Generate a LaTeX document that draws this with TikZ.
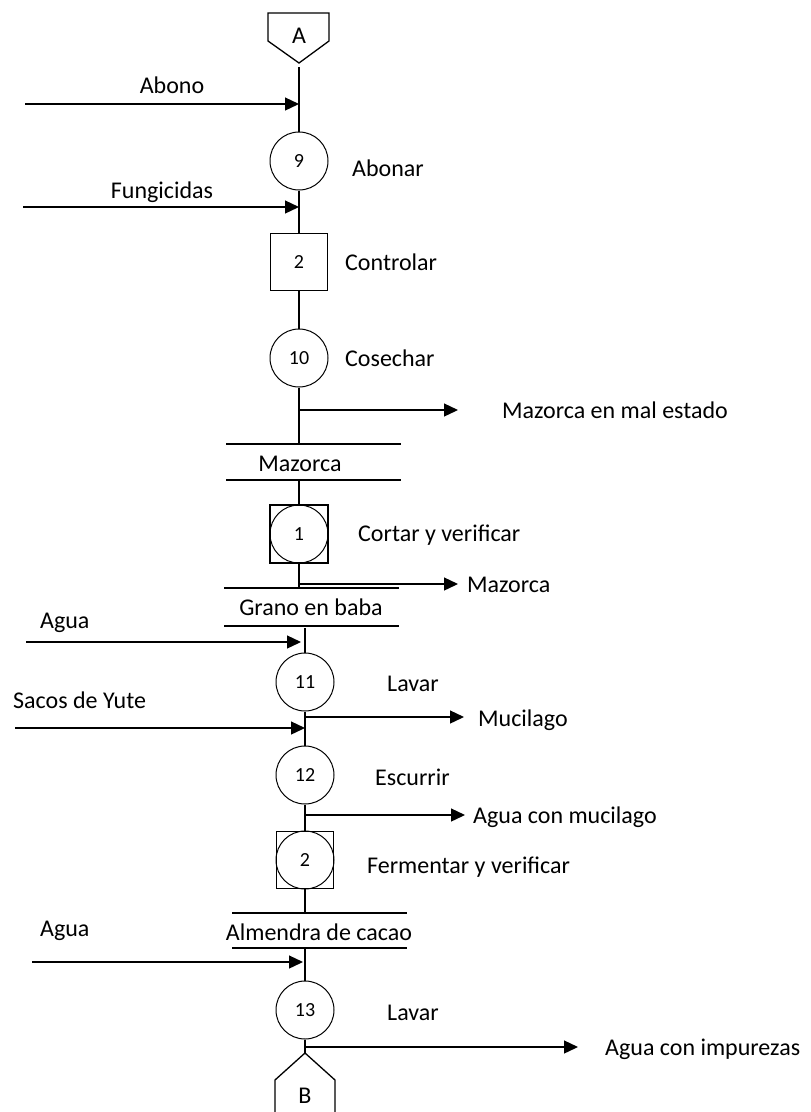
\documentclass[tikz,border=0pt]{standalone}
\usepackage{fontspec}
\setmainfont{Carlito}
\usetikzlibrary{arrows.meta}
\begin{document}
\begin{tikzpicture}[x=1pt,y=-1pt,
  ln/.style={line width=1.3pt},
  arr/.style={line width=1.3pt,-{Triangle[length=14pt,width=13pt]}},
  opcirc/.style={circle,draw,line width=1pt,minimum size=58pt,inner sep=0pt,font=\fontsize{20}{22}\selectfont},
  opbox/.style={rectangle,draw,line width=1.2pt,minimum size=58pt,inner sep=0pt,font=\fontsize{20}{22}\selectfont},
  lbl/.style={anchor=base west,inner sep=0pt,font=\fontsize{24}{28}\selectfont},
  clbl/.style={anchor=base,inner sep=0pt,font=\fontsize{24}{28}\selectfont},
  store/.style={line width=1.3pt}]
\useasboundingbox (0,0) rectangle (811,1112);

% connector A
\draw[ln] (268,13) -- (329,13) -- (329,41) -- (299,63) -- (268,41) -- cycle;
\node[clbl] (Alab) at (299,43) {A};
\coordinate (Atip) at (299,67);

% Abonar
\node[opcirc] (c9) at (299,161) {9};
\node[lbl] (t9) at (352,176) {Abonar};
\coordinate (abIn) at (25,104);
\coordinate (j1) at (299,104);
\node[clbl] (abL) at (172,93) {Abono};
\draw[ln] (Atip) -- (c9.north);
\draw[arr] (abIn) -- (j1);

% Controlar
\node[opbox,minimum size=57pt] (s2) at (299,262) {2};
\node[lbl] (ts2) at (345,270) {Controlar};
\coordinate (fuIn) at (23,207);
\coordinate (j2) at (299,207);
\node[clbl] (fuL) at (162,198) {Fungicidas};
\draw[ln] (c9.south) -- (s2.north);
\draw[arr] (fuIn) -- (j2);

% Cosechar
\node[opcirc] (c10) at (299,358) {10};
\node[lbl] (t10) at (345,366) {Cosechar};
\draw[ln] (s2.south) -- (c10.north);
\coordinate (m1t) at (299,444);
\draw[ln] (c10.south) -- (m1t);
\coordinate (j3) at (299,410);
\coordinate (o1) at (458,410);
\draw[arr] (j3) -- (o1);
\node[lbl] (o1L) at (502,418) {Mazorca en mal estado};

% storage Mazorca
\draw[store] (226,444) -- (401,444);
\draw[store] (226,480) -- (401,480);
\node[clbl] (st1) at (300,471) {Mazorca};
\coordinate (m1b) at (299,480);

% Cortar y verificar
\node[opbox] (sq1) at (299,534) {};
\node[opcirc] (c1) at (299,534) {1};
\node[lbl] (t1) at (358,541) {Cortar y verificar};
\draw[ln] (m1b) -- (sq1.north);
\coordinate (m2t) at (299,588);
\draw[ln] (sq1.south) -- (m2t);
\coordinate (j4) at (299,584);
\coordinate (o2) at (458,584);
\draw[arr] (j4) -- (o2);
\node[lbl] (o2L) at (467,592) {Mazorca};

% storage Grano en baba
\draw[store] (224,588) -- (399,588);
\draw[store] (224,626) -- (399,626);
\node[clbl] (st2) at (311,615) {Grano en baba};
\coordinate (m2b) at (305,628);

% Lavar 11
\node[opcirc] (c11) at (305,682) {11};
\node[lbl] (t11) at (387,691) {Lavar};
\draw[ln] (m2b) -- (c11.north);
\coordinate (agIn) at (26,642);
\coordinate (j5) at (301,642);
\draw[arr] (agIn) -- (j5);
\node[lbl] (agL) at (40,628) {Agua};

% Escurrir 12
\node[opcirc] (c12) at (305,775) {12};
\node[lbl] (t12) at (375,785) {Escurrir};
\draw[ln] (c11.south) -- (c12.north);
\coordinate (j6) at (305,717);
\coordinate (o3) at (464,717);
\draw[arr] (j6) -- (o3);
\node[lbl] (o3L) at (478,726) {Mucilago};
\coordinate (saIn) at (15,728);
\coordinate (j7) at (305,728);
\draw[arr] (saIn) -- (j7);
\node[lbl] (saL) at (13,708) {Sacos de Yute};

% Fermentar y verificar
\node[opbox,minimum size=57pt] (sq2) at (305,860) {};
\node[opcirc] (c2) at (305,860) {2};
\node[lbl] (t2) at (367,873) {Fermentar y verificar};
\draw[ln] (c12.south) -- (sq2.north);
\coordinate (j8) at (305,815);
\coordinate (o4) at (465,815);
\draw[arr] (j8) -- (o4);
\node[lbl] (o4L) at (473,823) {Agua con mucilago};
\coordinate (m3t) at (305,913);
\draw[ln] (sq2.south) -- (m3t);

% storage Almendra de cacao
\draw[store] (232,913) -- (407,913);
\draw[store] (232,948) -- (407,948);
\node[clbl] (st3) at (319,940) {Almendra de cacao};
\coordinate (m3b) at (305,948);

% Lavar 13
\node[opcirc] (c13) at (305,1010) {13};
\node[lbl] (t13) at (387,1020) {Lavar};
\draw[ln] (m3b) -- (c13.north);
\coordinate (ag2In) at (32,962);
\coordinate (j9) at (303,962);
\draw[arr] (ag2In) -- (j9);
\node[lbl] (ag2L) at (40,936) {Agua};

% connector B
\coordinate (Btip) at (305,1053);
\draw[ln] (c13.south) -- (Btip);
\coordinate (j10) at (305,1047);
\coordinate (o5) at (578,1047);
\draw[arr] (j10) -- (o5);
\node[lbl] (o5L) at (605,1055) {Agua con impurezas};
\draw[ln] (305,1053) -- (335,1080) -- (335,1120) -- (275,1120) -- (275,1080) -- cycle;
\node[clbl] (Blab) at (305,1103) {B};
\end{tikzpicture}
\end{document}
